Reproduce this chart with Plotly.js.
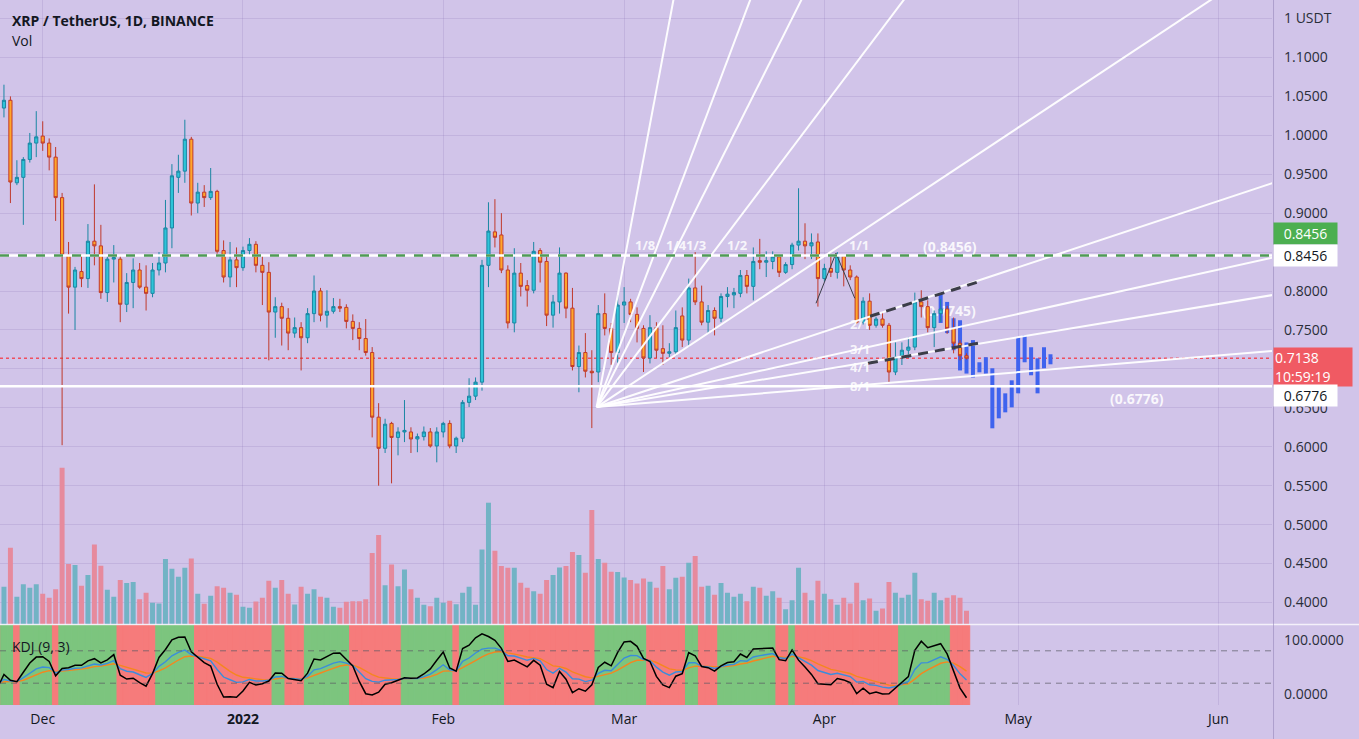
<!DOCTYPE html>
<html><head><meta charset="utf-8">
<script src="https://cdn.plot.ly/plotly-3.0.1.min.js"></script>
<style>html,body{margin:0;padding:0;background:#D1C4E9;}#chart{width:1359px;height:739px;}</style>
</head><body><div id="chart"></div>
<script>
// ---------------- data ----------------
const startDate = '2021-11-24';
const open = [1.066,1.035,1.045,0.939,0.946,0.969,0.990,0.999,0.990,0.972,0.920,0.846,0.805,0.825,0.816,0.864,0.858,0.798,0.841,0.841,
0.783,0.811,0.827,0.805,0.797,0.827,0.836,0.881,0.946,0.954,0.995,0.913,0.927,0.920,0.928,0.852,0.818,0.840,0.830,0.852,
0.860,0.833,0.824,0.773,0.780,0.765,0.746,0.753,0.740,0.771,0.800,0.769,0.774,0.780,0.779,0.761,0.752,0.739,0.721,0.638,
0.598,0.630,0.612,0.619,0.619,0.610,0.613,0.619,0.601,0.619,0.630,0.601,0.611,0.657,0.665,0.683,0.833,0.876,0.872,0.827,
0.759,0.823,0.807,0.801,0.852,0.838,0.769,0.786,0.823,0.778,0.703,0.721,0.697,0.696,0.771,0.752,0.721,0.782,0.786,0.770,
0.752,0.714,0.753,0.726,0.720,0.722,0.768,0.737,0.804,0.786,0.760,0.775,0.765,0.793,0.795,0.797,0.820,0.806,0.839,0.837,
0.838,0.844,0.824,0.834,0.859,0.864,0.858,0.863,0.816,0.829,0.824,0.845,0.827,0.818,0.760,0.787,0.756,0.764,0.756,0.696,
0.715,0.724,0.728,0.786,0.780,0.753,0.771,0.777,0.752,0.733,0.717];
const high = [1.070,1.065,1.050,0.968,0.972,1.003,1.031,1.018,0.996,0.985,0.926,0.863,0.831,0.847,0.886,0.937,0.885,0.846,0.859,0.845,
0.823,0.842,0.836,0.833,0.836,0.850,0.917,0.963,0.975,1.020,0.998,0.939,0.936,0.958,0.930,0.865,0.863,0.856,0.857,0.868,
0.864,0.846,0.837,0.792,0.785,0.778,0.766,0.760,0.778,0.820,0.804,0.801,0.791,0.790,0.783,0.770,0.760,0.764,0.728,0.656,
0.636,0.632,0.625,0.660,0.625,0.617,0.626,0.624,0.625,0.632,0.634,0.613,0.660,0.688,0.689,0.840,0.914,0.918,0.900,0.833,
0.855,0.836,0.814,0.863,0.855,0.846,0.795,0.856,0.824,0.804,0.730,0.746,0.724,0.782,0.797,0.759,0.795,0.805,0.790,0.779,
0.756,0.769,0.760,0.756,0.733,0.775,0.779,0.816,0.850,0.807,0.782,0.779,0.797,0.805,0.804,0.827,0.827,0.856,0.867,0.851,
0.851,0.846,0.837,0.862,0.932,0.887,0.874,0.874,0.835,0.846,0.850,0.846,0.833,0.820,0.792,0.797,0.767,0.773,0.759,0.734,
0.734,0.741,0.798,0.801,0.788,0.775,0.790,0.781,0.766,0.737,0.720];
const low = [1.030,1.023,0.913,0.936,0.885,0.965,0.972,0.980,0.955,0.890,0.602,0.771,0.750,0.805,0.804,0.833,0.790,0.786,0.811,0.760,
0.773,0.778,0.803,0.775,0.792,0.820,0.824,0.855,0.926,0.939,0.897,0.900,0.908,0.917,0.848,0.811,0.805,0.805,0.826,0.845,
0.824,0.782,0.711,0.740,0.730,0.724,0.740,0.698,0.733,0.760,0.761,0.753,0.771,0.773,0.752,0.737,0.724,0.717,0.612,0.550,
0.592,0.553,0.589,0.606,0.592,0.593,0.608,0.599,0.580,0.612,0.598,0.592,0.606,0.651,0.660,0.672,0.805,0.856,0.823,0.752,
0.747,0.793,0.780,0.797,0.811,0.755,0.753,0.771,0.765,0.698,0.670,0.689,0.624,0.683,0.743,0.705,0.708,0.759,0.760,0.734,
0.696,0.707,0.714,0.705,0.715,0.717,0.728,0.728,0.782,0.756,0.746,0.743,0.760,0.779,0.778,0.792,0.797,0.788,0.828,0.818,
0.828,0.818,0.822,0.828,0.852,0.841,0.841,0.780,0.812,0.818,0.816,0.806,0.814,0.758,0.757,0.750,0.753,0.753,0.683,0.692,
0.705,0.714,0.724,0.766,0.747,0.728,0.760,0.745,0.720,0.711,0.712];
const close = [1.035,1.045,0.940,0.946,0.969,0.990,0.998,0.990,0.972,0.920,0.846,0.805,0.827,0.816,0.864,0.858,0.798,0.841,0.843,0.783,
0.811,0.827,0.805,0.797,0.827,0.836,0.881,0.948,0.954,0.995,0.913,0.927,0.920,0.928,0.851,0.818,0.840,0.830,0.852,0.860,
0.833,0.824,0.773,0.780,0.765,0.746,0.753,0.740,0.771,0.800,0.769,0.774,0.780,0.778,0.761,0.752,0.739,0.721,0.638,0.598,
0.629,0.612,0.619,0.621,0.610,0.613,0.619,0.601,0.619,0.630,0.601,0.611,0.657,0.665,0.683,0.833,0.877,0.869,0.827,0.759,
0.823,0.806,0.801,0.851,0.837,0.769,0.786,0.823,0.778,0.703,0.721,0.697,0.695,0.771,0.752,0.721,0.782,0.786,0.770,0.752,
0.714,0.753,0.724,0.720,0.722,0.753,0.737,0.804,0.786,0.760,0.775,0.765,0.793,0.796,0.798,0.820,0.806,0.838,0.837,0.839,
0.844,0.824,0.834,0.859,0.864,0.858,0.862,0.816,0.829,0.824,0.845,0.827,0.818,0.760,0.787,0.756,0.764,0.756,0.696,0.715,
0.724,0.728,0.786,0.780,0.753,0.771,0.777,0.752,0.733,0.717,0.7138];
const volume = [125,113,230,83,121,110,121,92,80,106,470,181,178,116,148,240,176,104,83,133,
124,127,76,95,65,63,196,167,143,170,198,92,62,86,115,110,95,89,53,50,
69,80,131,110,133,92,60,113,92,106,83,80,53,50,68,70,70,76,214,268,
118,180,115,165,106,80,59,55,80,65,71,61,95,113,59,225,365,221,175,170,
170,125,110,100,92,133,148,171,175,217,208,155,343,196,185,158,157,141,133,123,
138,128,110,175,106,140,143,185,205,113,116,89,124,95,83,92,70,113,110,86,
100,80,46,73,170,95,73,131,92,76,59,80,63,125,73,78,41,48,127,95,
80,89,155,76,71,95,73,80,88,80,41];

// projected bar pattern (blue)
const projDates = ['2022-04-19','2022-04-20','2022-04-21','2022-04-22','2022-04-23','2022-04-24','2022-04-25','2022-04-26','2022-04-27',
 '2022-04-28','2022-04-29','2022-04-30','2022-05-01','2022-05-02','2022-05-03','2022-05-04','2022-05-05','2022-05-06'];
const projHigh = [0.798,0.786,0.765,0.7625,0.734,0.737,0.7085,0.715,0.7008,0.6764,0.6686,0.6853,0.7406,0.7432,0.7278,0.7136,0.7278,0.7188];
const projLow  = [0.759,0.746,0.724,0.698,0.694,0.689,0.6956,0.694,0.6237,0.6365,0.6442,0.6506,0.6686,0.7085,0.6918,0.6686,0.7008,0.7059];

// horizontal levels
const levelGreen = 0.8456, levelWhite = 0.6776, lastPrice = 0.7138;

// Gann fan
const fanOriginDate = '2022-02-24 18:00', fanOriginPrice = 0.651, fanUnitSlope = 0.0055; // price per day for 1/1
const fanRatios = [8,4,3,2,1,1/2,1/3,1/4,1/8];
const fanLabels = ['1/8','1/4','1/3','1/2','1/1','2/1','3/1','4/1','8/1'];
const fanBoxTopPrice = 0.859, fanBoxRightDate = '2022-04-04 16:48';

// channel + drawing lines
const chanUpperX = ['2022-04-08 01:30','2022-04-24 15:00'], chanUpperY = [0.7676,0.8113];
const chanLowerX = ['2022-04-07 18:00','2022-04-24 18:40'], chanLowerY = [0.7072,0.7329];
const vLineX = ['2022-03-30 17:00','2022-04-02 19:00','2022-04-05 17:00'], vLineY = [0.7843,0.8486,0.7907];

// KDJ(9,3)
const kdjLen = 9, kdjSig = 3, kdjSeedK = 20, kdjSeedD = 22;

// axis ticks (0.8500 and 0.7000 sit under the price boxes in the reference)
const priceTicks = [0.40,0.45,0.50,0.55,0.60,0.65,0.70,0.75,0.80,0.85,0.90,0.95,1.00,1.05,1.10,1.15];
const priceTickText = ['0.4000','0.4500','0.5000','0.5500','0.6000','0.6500','','0.7500','0.8000','','0.9000','0.9500','1.0000','1.0500','1.1000','1 USDT'];
const monthTicks = ['2021-12-01','2022-01-01','2022-02-01','2022-03-01','2022-04-01','2022-05-01','2022-06-01'];
const monthText = ['Dec','<b>2022</b>','Feb','Mar','Apr','May','Jun'];

// ---------------- build ----------------
const DAY = 864e5;
const t0 = Date.parse(startDate + 'T00:00:00Z');
const dates = close.map((_, i) => new Date(t0 + i*DAY).toISOString().slice(0,10));
const toMs = s => Date.parse(s.replace(' ', 'T') + (s.length > 10 ? ':00Z' : 'T00:00:00Z'));
const msStr = ms => new Date(ms).toISOString().replace('T',' ').slice(0,19);

const UP = '#2ec4d8', UPL = '#1a86a3', DN = '#ffa62b', DNL = '#c0392b';
const VUP = '#72b3c5', VDN = '#e68a9d';
const BG = '#D1C4E9';

// KDJ
const K = [], D = [], J = [];
let pk = kdjSeedK, pd = kdjSeedD;
for (let i = 0; i < close.length; i++) {
  const s = Math.max(0, i - kdjLen + 1);
  const hh = Math.max(...high.slice(s, i+1)), ll = Math.min(...low.slice(s, i+1));
  const rsv = hh > ll ? (close[i]-ll)/(hh-ll)*100 : 50;
  pk = (rsv + (kdjSig-1)*pk)/kdjSig;
  pd = (pk + (kdjSig-1)*pd)/kdjSig;
  K.push(pk); D.push(pd); J.push(3*pk - 2*pd);
}
const kdjLo = -20.4, kdjHi = 127.8;

const traces = [];
// KDJ background bands
const bandCol = J.map((v,i)=> v > D[i] ? '#7cc57e' : '#f67b7b');
traces.push({type:'bar', x: dates, y: dates.map(()=>kdjHi-kdjLo), base: dates.map(()=>kdjLo),
  width: DAY, marker:{color: bandCol, line:{width:1, color: bandCol}},
  xaxis:'x', yaxis:'y2', hoverinfo:'skip'});
// hidden label under candles
traces.push({type:'scatter', mode:'text', x:[msStr(t0 + 147.3*DAY)], y:[0.7728], text:['<b>(0.7745)</b>'],
  textfont:{color:'rgba(255,255,255,0.85)', size:14, family:'Open Sans'}, xaxis:'x', yaxis:'y', hoverinfo:'skip'});
// volume
traces.push({type:'bar', x: dates, y: volume, width: 0.77*DAY,
  marker:{color: close.map((c,i)=> c >= open[i] ? VUP : VDN), line:{width:0}},
  xaxis:'x', yaxis:'y3', hoverinfo:'skip'});
// projected blue bars
traces.push({type:'bar', x: projDates, y: projHigh.map((h,i)=>h-projLow[i]), base: projLow, width: 0.62*DAY,
  marker:{color:'#3f63ee', line:{width:0}}, xaxis:'x', yaxis:'y4', hoverinfo:'skip'});
// candles
traces.push({type:'candlestick', x: dates, open, high, low, close,
  increasing:{line:{color:UPL, width:1}, fillcolor:UP},
  decreasing:{line:{color:DNL, width:1}, fillcolor:DN},
  whiskerwidth:0, xaxis:'x', yaxis:'y4', hoverinfo:'skip'});
// Gann fan lines
const o = toMs(fanOriginDate);
const fanEnd = toMs('2022-06-25');
fanRatios.forEach(r => {
  traces.push({type:'scatter', mode:'lines', x:[fanOriginDate, msStr(fanEnd)],
    y:[fanOriginPrice, fanOriginPrice + fanUnitSlope*r*(fanEnd-o)/DAY],
    line:{color:'rgba(255,255,255,0.95)', width:2}, xaxis:'x', yaxis:'y4', hoverinfo:'skip'});
});
// channel dashed lines
[[chanUpperX,chanUpperY],[chanLowerX,chanLowerY]].forEach(([xx,yy]) => {
  traces.push({type:'scatter', mode:'lines', x:xx, y:yy, line:{color:'#3b3d48', width:3, dash:'10px,7px'},
    xaxis:'x', yaxis:'y4', hoverinfo:'skip'});
});
traces.push({type:'scatter', mode:'lines', x:vLineX, y:vLineY, line:{color:'#3b3d48', width:1},
  xaxis:'x', yaxis:'y4', hoverinfo:'skip'});
// KDJ lines
traces.push({type:'scatter', mode:'lines', x:dates, y:D, line:{color:'#f5861f', width:1.4}, xaxis:'x', yaxis:'y2', hoverinfo:'skip'});
traces.push({type:'scatter', mode:'lines', x:dates, y:K, line:{color:'#3a8ddc', width:1.4}, xaxis:'x', yaxis:'y2', hoverinfo:'skip'});
traces.push({type:'scatter', mode:'lines', x:dates, y:J, line:{color:'#000000', width:1.5}, xaxis:'x', yaxis:'y2', hoverinfo:'skip'});

// ---------------- layout ----------------
const plotH = 705, priceBottomPx = 624.5;
const priceDomain = [(plotH-priceBottomPx)/plotH, 1];
const kdjDomain = [0, 80/plotH];
const pRange = [0.4 - 22/778, 0.4 + 602/778];
const font = 'Open Sans, Roboto, sans-serif';
const grid = 'rgba(140,120,180,0.22)';

const annotations = [
  {xref:'paper', yref:'paper', x:10/1272, y:1-20/plotH, xanchor:'left', yanchor:'middle', showarrow:false,
   text:'<b>XRP / TetherUS, 1D, BINANCE</b>', font:{size:14, color:'#131722', family:font}},
  {xref:'paper', yref:'paper', x:10/1272, y:1-41/plotH, xanchor:'left', yanchor:'middle', showarrow:false,
   text:'Vol', font:{size:14, color:'#131722', family:font}},
  {xref:'paper', yref:'paper', x:10/1272, y:(plotH-646)/plotH, xanchor:'left', yanchor:'middle', showarrow:false,
   text:'KDJ (9, 3)', font:{size:14, color:'#131722', family:font}},
  // axis price boxes
  {xref:'paper', yref:'y', x:1, y:levelGreen, xanchor:'left', yanchor:'middle', xshift:1, yshift:22, showarrow:false,
   text:'0.8456', bgcolor:'#4caf50', width:61, height:19, borderpad:1, font:{size:14, color:'#ffffff', family:font}},
  {xref:'paper', yref:'y', x:1, y:levelGreen, xanchor:'left', yanchor:'middle', xshift:1, showarrow:false,
   text:'0.8456', bgcolor:'#ffffff', width:61, height:19, borderpad:1, font:{size:14, color:'#131722', family:font}},
  {xref:'paper', yref:'y', x:1, y:lastPrice, xanchor:'left', yanchor:'top', xshift:1, yshift:11, showarrow:false,
   text:'0.7138<br>10:59:19', bgcolor:'#f05a63', width:76, height:36, borderpad:1, align:'left',
   font:{size:14, color:'#ffffff', family:font}},
  {xref:'paper', yref:'y', x:1, y:levelWhite, xanchor:'left', yanchor:'middle', xshift:1, yshift:-9, showarrow:false,
   text:'0.6776', bgcolor:'#ffffff', width:61, height:19, borderpad:1, font:{size:14, color:'#131722', family:font}},
  // level labels
  {xref:'x', yref:'y', x:msStr(t0+147.4*DAY), y:levelGreen, yshift:9, showarrow:false,
   text:'<b>(0.8456)</b>', font:{size:14, color:'rgba(255,255,255,0.88)', family:font}},
  {xref:'x', yref:'y', x:msStr(t0+176.4*DAY), y:levelWhite, yshift:-12, showarrow:false,
   text:'<b>(0.6776)</b>', font:{size:14, color:'rgba(255,255,255,0.88)', family:font}},
];
// Gann fan labels
const fanLabelNudge = {'3/1': 2, '4/1': -2};
fanRatios.forEach((r, i) => {
  let x, y, xs = 0;
  if (r >= 1) { x = msStr(o + (fanBoxTopPrice - fanOriginPrice)/(fanUnitSlope*r)*DAY); y = fanBoxTopPrice; xs = 6; }
  else { x = fanBoxRightDate; y = fanOriginPrice + fanUnitSlope*r*(toMs(fanBoxRightDate)-o)/DAY; }
  annotations.push({xref:'x', yref:'y', x, y, xanchor:'left', yanchor:'middle', xshift:xs,
    yshift: fanLabelNudge[fanLabels[i]] || 0, showarrow:false,
    text:'<b>'+fanLabels[i]+'</b>', font:{size:13, color:'rgba(255,255,255,0.85)', family:font}});
});

const shapes = [
  {type:'line', xref:'paper', yref:'y', x0:0, x1:1, y0:lastPrice, y1:lastPrice, layer:'below',
   line:{color:'#ef4f5f', width:1.5, dash:'dot'}},
  {type:'line', xref:'paper', yref:'y', x0:0, x1:1, y0:levelGreen, y1:levelGreen, layer:'above',
   line:{color:'#ffffff', width:2.5}},
  {type:'line', xref:'paper', yref:'y', x0:0, x1:1, y0:levelGreen, y1:levelGreen, layer:'above',
   line:{color:'#4f9a57', width:2.5, dash:'9px,9px'}},
  {type:'line', xref:'paper', yref:'y', x0:0, x1:1, y0:levelWhite, y1:levelWhite, layer:'above',
   line:{color:'#ffffff', width:2.5}},
  {type:'line', xref:'paper', yref:'y2', x0:0, x1:1, y0:80, y1:80, layer:'above',
   line:{color:'rgba(90,90,100,0.7)', width:1, dash:'6px,5px'}},
  {type:'line', xref:'paper', yref:'y2', x0:0, x1:1, y0:20, y1:20, layer:'above',
   line:{color:'rgba(90,90,100,0.7)', width:1, dash:'6px,5px'}},
  // pane separators
  {type:'line', xref:'paper', yref:'paper', x0:0, x1:1359/1272, y0:(plotH-624.5)/plotH, y1:(plotH-624.5)/plotH, layer:'above',
   line:{color:'rgba(255,255,255,0.75)', width:1.5}},
  {type:'line', xref:'paper', yref:'paper', x0:1.0012, x1:1.0012, y0:-34/plotH, y1:1, layer:'above',
   line:{color:'rgba(150,135,185,0.6)', width:1}},
];

const layout = {
  width:1359, height:739, margin:{l:0, r:87, t:0, b:34},
  paper_bgcolor:BG, plot_bgcolor:BG, showlegend:false, barmode:'overlay', hovermode:false,
  font:{family:font, color:'#131722'},
  xaxis:{type:'date', anchor:'y2', range:['2021-11-24 09:17','2022-06-09 07:00'], rangeslider:{visible:false},
    tickvals:monthTicks, ticktext:monthText, tickfont:{size:14, color:'#131722'}, ticks:'', ticklabelstandoff:4,
    showgrid:true, gridcolor:grid, zeroline:false, showline:false},
  yaxis:{domain:priceDomain, range:pRange, side:'right', anchor:'x', tickvals:priceTicks, ticktext:priceTickText,
    tickfont:{size:14, color:'#2a2e39'}, ticks:'', ticklabelstandoff:11, showgrid:true, gridcolor:grid, zeroline:false, fixedrange:true},
  yaxis3:{overlaying:'y', anchor:'x', side:'right', range:[0,1871.6], visible:false, showgrid:false, zeroline:false},
  yaxis4:{overlaying:'y', anchor:'x', side:'right', range:pRange, visible:false, showgrid:false, zeroline:false},
  yaxis2:{domain:kdjDomain, range:[kdjLo,kdjHi], side:'right', anchor:'x', tickvals:[0,100], ticktext:['0.0000','100.0000'],
    tickfont:{size:14, color:'#2a2e39'}, ticks:'', ticklabelstandoff:11, showgrid:false, zeroline:false},
  annotations, shapes
};
Plotly.newPlot('chart', traces, layout, {staticPlot:true, displayModeBar:false});
</script></body></html>
